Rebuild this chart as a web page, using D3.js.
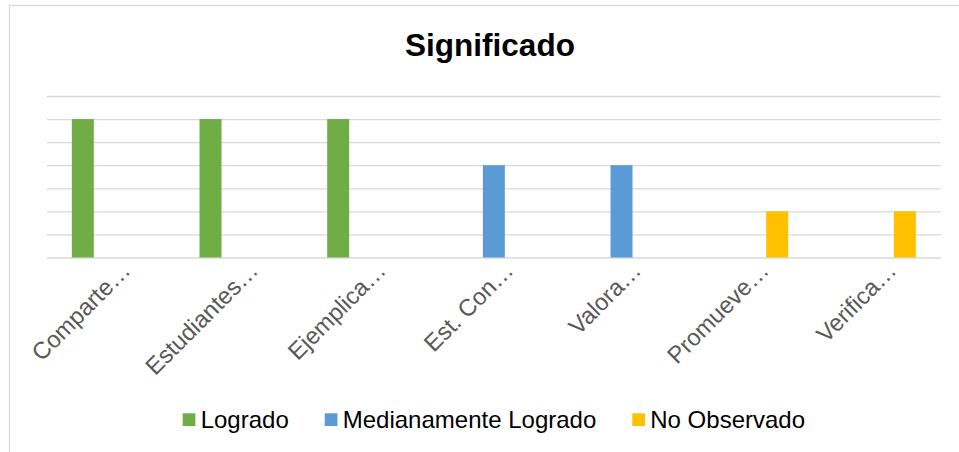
<!DOCTYPE html>
<html>
<head>
<meta charset="utf-8">
<script src="https://cdn.jsdelivr.net/npm/d3@7"></script>
<style>
  body { margin: 0; background: #fff; }
  svg { display: block; font-family: "Liberation Sans", Arial, sans-serif; }
</style>
</head>
<body>
<div id="chart"></div>
<script>
// data
const categories = ["Comparte…", "Estudiantes…", "Ejemplica…", "Est. Con…", "Valora…", "Promueve…", "Verifica…"]
const seriesNames = ["Logrado", "Medianamente Logrado", "No Observado"]
const logrado = [6, 6, 6, 0, 0, 0, 0]
const medianamente = [0, 0, 0, 4, 4, 0, 0]
const noObservado = [0, 0, 0, 0, 0, 2, 2]
const yTicks = [0, 1, 2, 3, 4, 5, 6, 7]
const colors = ["#70AD47", "#5B9BD5", "#FFC000"]

const W = 959, H = 452
const margin = {top: 96, right: 18.3, bottom: 194.5, left: 47}
const width = W - margin.left - margin.right,
      height = H - margin.top - margin.bottom

const svg = d3.select("#chart")
    .append("svg")
    .attr("width", W)
    .attr("height", H)

// chart frame
svg.append("rect")
    .attr("x", 9.5)
    .attr("y", 5.5)
    .attr("width", 1000)
    .attr("height", 1000)
    .attr("fill", "none")
    .attr("stroke", "#D9D9D9")
    .attr("stroke-width", 1.3)

// title
svg.append("text")
    .attr("x", 490)
    .attr("y", 56)
    .attr("text-anchor", "middle")
    .style("font-size", "31.5px")
    .style("font-weight", "bold")
    .style("fill", "#000")
    .text("Significado")

const g = svg.append("g")
    .attr("transform", `translate(${margin.left}, ${margin.top})`)

const x0 = d3.scaleBand()
    .domain(categories)
    .range([0, width])
    .padding(0)

// bars 22px wide, 28px step, centred in each group
const step = 28, barW = 22
const inner = (step - barW) / step
const outer = (x0.bandwidth() / step - (seriesNames.length - inner)) / 2
const x1 = d3.scaleBand()
    .domain(seriesNames)
    .range([0, x0.bandwidth()])
    .paddingInner(inner)
    .paddingOuter(outer)

const y = d3.scaleLinear()
    .domain([0, 7])
    .range([height, 0])

// gridlines
g.append("g")
    .call(d3.axisLeft(y).tickValues(yTicks).tickSize(-width).tickFormat(""))
    .call(ax => ax.select(".domain").remove())
    .call(ax => ax.selectAll("line")
        .attr("stroke", "#D9D9D9")
        .attr("stroke-width", 1.3))

const table = categories.map((c, i) => ({
    cat: c,
    vals: [logrado[i], medianamente[i], noObservado[i]]
}))

g.selectAll(".grp")
    .data(table)
    .join("g")
    .attr("class", "grp")
    .attr("transform", d => `translate(${x0(d.cat)}, 0)`)
    .selectAll("rect")
    .data(d => d.vals.map((v, j) => ({name: seriesNames[j], v: v, j: j})))
    .join("rect")
    .attr("x", d => x1(d.name))
    .attr("y", d => y(d.v))
    .attr("width", x1.bandwidth())
    .attr("height", d => y(0) - y(d.v))
    .attr("fill", d => colors[d.j])

// category labels, rotated
g.append("g")
    .selectAll("text")
    .data(categories)
    .join("text")
    .attr("transform", d => `translate(${x0(d) + x0.bandwidth() / 2 + 21}, ${height + 14.5}) rotate(-45)`)
    .attr("text-anchor", "end")
    .style("font-size", "23.7px")
    .style("fill", "#595959")
    .text(d => d)

// legend
const legend = svg.append("g")
const items = legend.selectAll("g")
    .data(seriesNames)
    .join("g")
items.append("rect")
    .attr("width", 12.7)
    .attr("height", 12.7)
    .attr("y", -12.7)
    .attr("fill", (d, i) => colors[i])
items.append("text")
    .attr("x", 18)
    .attr("y", 1.5)
    .style("font-size", "24px")
    .style("fill", "#000")
    .text(d => d)

let lx = 0
items.each(function () {
    const w = this.getBBox().width
    d3.select(this).attr("transform", `translate(${lx}, 426)`)
    lx += w + 36
})
const totalW = lx - 36
const legendX = margin.left + width / 2 - totalW / 2
legend.attr("transform", `translate(${legendX}, 0)`)
</script>
</body>
</html>
